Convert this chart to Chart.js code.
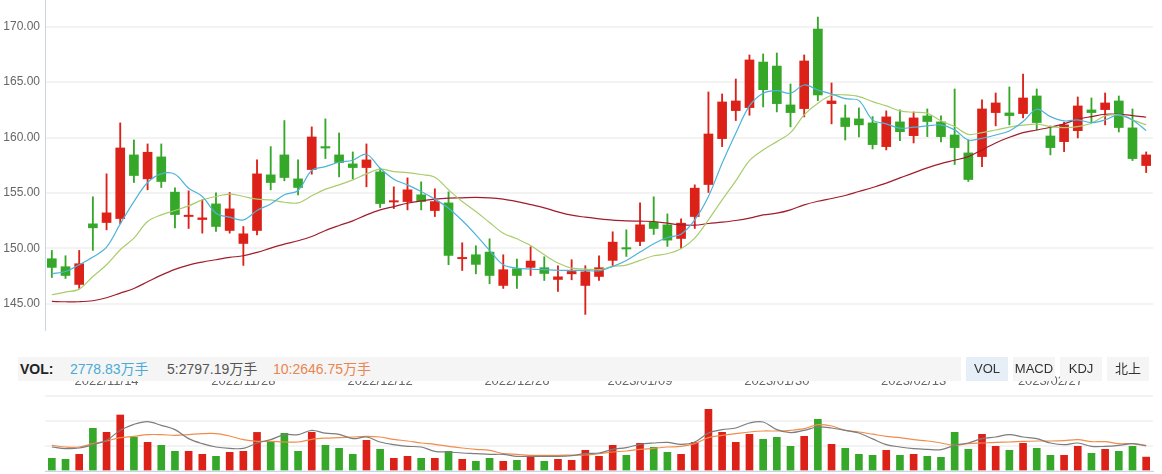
<!DOCTYPE html>
<html>
<head>
<meta charset="utf-8">
<script src="https://cdn.jsdelivr.net/npm/chart.js@4.4.1/dist/chart.umd.min.js"></script>
<style>
  body { margin: 0; background: #fff; font-family: "Liberation Sans", Arial, "Noto Sans CJK SC", sans-serif; }
  #wrap { position: relative; width: 1162px; height: 474px; overflow: hidden; }
  #mainChart { position: absolute; left: 0; top: 0; }
  #volChart { position: absolute; left: 0; top: 390px; }
  .volbar { position: absolute; left: 18px; top: 357px; width: 943px; height: 24px; background: #f5f5f5; z-index: 2;
            font-size: 14px; line-height: 24px; white-space: nowrap; }
  .volbar span { position: absolute; top: 0; }
  .btn { position: absolute; top: 357px; height: 24px; width: 42px; background: #f5f5f5; z-index: 2;
         font-size: 13px; line-height: 24px; text-align: center; color: #333; }
  .btn.on { background: #e6eef8; }
</style>
</head>
<body>
<div id="wrap">
  <canvas id="mainChart" width="1162" height="392"></canvas>
  <canvas id="volChart" width="1162" height="84"></canvas>
  <div class="volbar">
    <span style="left:2px;font-weight:bold;color:#222;">VOL:</span>
    <span style="left:52px;color:#4aabd6;">2778.83万手</span>
    <span style="left:149px;color:#555;">5:2797.19万手</span>
    <span style="left:255px;color:#ea8550;">10:2646.75万手</span>
  </div>
  <div class="btn on" style="left:966px;">VOL</div>
  <div class="btn" style="left:1013px;">MACD</div>
  <div class="btn" style="left:1060px;">KDJ</div>
  <div class="btn" style="left:1107px;">北上</div>
</div>
<script>
const dates = [
  "2022/11/08","2022/11/09","2022/11/10","2022/11/11","2022/11/14","2022/11/15","2022/11/16","2022/11/17","2022/11/18",
  "2022/11/21","2022/11/22","2022/11/23","2022/11/24","2022/11/25","2022/11/28","2022/11/29","2022/11/30","2022/12/01",
  "2022/12/02","2022/12/05","2022/12/06","2022/12/07","2022/12/08","2022/12/09","2022/12/12","2022/12/13","2022/12/14",
  "2022/12/15","2022/12/16","2022/12/19","2022/12/20","2022/12/21","2022/12/22","2022/12/23","2022/12/26","2022/12/27",
  "2022/12/28","2022/12/29","2022/12/30","2023/01/03","2023/01/04","2023/01/05","2023/01/06","2023/01/09","2023/01/10",
  "2023/01/11","2023/01/12","2023/01/13","2023/01/16","2023/01/17","2023/01/18","2023/01/19","2023/01/20","2023/01/30",
  "2023/01/31","2023/02/01","2023/02/02","2023/02/03","2023/02/06","2023/02/07","2023/02/08","2023/02/09","2023/02/10",
  "2023/02/13","2023/02/14","2023/02/15","2023/02/16","2023/02/17","2023/02/20","2023/02/21","2023/02/22","2023/02/23",
  "2023/02/24","2023/02/27","2023/02/28","2023/03/01","2023/03/02","2023/03/03","2023/03/06","2023/03/07","2023/03/08"
];
const tickDates = ["2022/11/14","2022/11/28","2022/12/12","2022/12/26","2023/01/09","2023/01/30","2023/02/13","2023/02/27"];
const priceTicks = [145, 150, 155, 160, 165, 170];
const volTicks = [0, 5000, 10000, 15000];

const opens = [149.06,148.34,146.74,152.21,152.33,152.69,158.43,156.27,158.25,155.07,
  152.87,152.60,154.01,151.61,150.44,151.61,156.63,158.43,156.27,157.11,
  159.18,158.43,157.62,157.29,156.90,154.18,154.22,154.83,153.41,154.10,
  149.06,149.42,149.66,146.65,148.16,148.28,148.25,147.19,147.70,146.65,
  147.46,148.91,150.06,150.62,152.36,152.12,150.89,152.87,155.76,159.90,
  162.43,162.70,166.81,166.45,162.94,162.61,169.79,163.06,161.77,161.68,
  161.32,159.18,161.41,160.17,161.95,161.41,160.23,158.61,158.28,162.25,
  162.22,162.16,163.75,160.14,159.63,160.62,162.49,162.52,163.30,160.87,
  157.47];
const closes = [148.28,147.55,148.61,151.85,153.20,159.06,156.57,158.67,156.03,153.05,
  152.99,152.75,151.97,153.56,151.31,156.72,155.94,156.39,155.49,160.05,
  159.05,157.74,157.29,157.98,154.04,154.30,155.28,154.22,154.22,149.36,
  149.18,148.55,147.55,148.07,147.55,148.85,147.73,147.43,147.91,147.88,
  148.25,150.56,149.94,152.12,151.79,150.74,152.27,155.43,160.32,163.21,
  163.30,167.00,164.32,163.06,162.25,166.91,163.84,163.30,160.99,161.14,
  159.36,161.86,160.53,161.77,161.44,160.08,159.09,156.21,162.58,163.12,
  161.98,163.57,161.35,159.09,161.14,162.85,162.25,163.12,160.90,158.10,
  158.43];
const highs = [149.81,149.33,149.81,154.65,156.72,161.32,159.78,159.42,159.42,155.46,
  155.19,154.37,155.01,155.04,151.97,157.98,159.18,161.53,157.98,160.96,
  161.68,160.41,158.70,159.42,157.23,155.55,156.36,156.00,155.37,155.10,
  150.50,150.23,150.86,149.42,149.03,150.14,149.24,148.43,148.97,148.43,
  149.33,151.49,151.67,154.10,154.65,153.11,152.66,155.73,164.11,163.93,
  165.28,167.45,167.54,167.63,164.83,167.45,170.87,164.92,162.94,162.67,
  161.89,162.40,162.49,162.31,162.58,161.95,164.38,159.78,163.39,164.02,
  164.56,165.73,164.38,161.05,161.38,163.66,163.57,164.02,163.75,162.58,
  158.70];
const lows = [147.37,147.28,146.38,149.81,151.67,152.21,155.94,155.28,155.49,151.85,
  151.79,151.37,151.52,151.37,148.46,151.22,155.28,156.09,154.83,156.69,
  158.10,156.45,156.27,155.55,153.68,153.59,153.47,153.47,152.87,148.52,
  148.00,147.70,146.80,146.38,146.38,147.55,147.10,146.11,147.16,144.04,
  147.10,148.37,149.27,150.23,151.25,150.17,150.00,151.79,155.04,159.18,
  161.53,162.01,162.76,162.31,160.96,161.86,163.33,161.23,159.78,160.05,
  158.97,158.88,159.72,159.51,160.08,159.60,157.56,156.03,157.38,161.05,
  161.14,161.77,160.68,158.43,158.73,159.96,161.35,161.14,160.50,157.92,
  156.84];

const ma5 = [147.70,147.91,148.52,149.21,150.11,152.21,154.22,155.94,156.72,156.69,
  155.43,154.68,153.17,152.81,152.57,153.41,154.01,154.83,155.22,157.02,
  157.38,157.77,157.95,158.49,157.23,156.24,155.73,155.13,154.44,153.62,
  152.51,151.22,149.81,148.52,148.22,148.13,148.07,148.01,148.01,148.01,
  147.97,148.37,148.91,149.66,150.41,150.98,151.28,152.57,154.68,157.68,
  160.38,162.85,163.99,164.23,163.99,164.74,164.29,163.93,163.51,163.33,
  161.59,161.23,160.84,160.93,161.05,161.14,160.69,159.78,159.93,160.23,
  160.59,161.44,162.55,161.89,161.50,161.59,161.35,161.59,162.04,161.59,
  160.62];
const ma10 = [145.81,146.05,146.32,147.46,148.52,149.87,150.92,152.42,153.02,153.41,
  153.83,154.37,154.68,154.89,154.68,154.44,154.37,154.16,154.10,154.74,
  155.34,155.73,156.18,156.72,157.14,156.93,156.84,156.66,156.42,155.28,
  154.22,153.32,152.33,151.37,150.86,150.26,149.42,148.67,148.22,148.13,
  148.07,148.37,148.49,148.91,149.33,149.51,149.96,150.92,152.57,154.37,
  156.09,157.92,158.88,159.63,160.44,162.04,163.09,163.81,163.84,163.69,
  163.24,162.85,162.40,162.28,162.19,161.50,160.99,160.29,160.44,160.68,
  160.93,161.11,161.20,160.99,160.90,160.99,161.29,161.95,162.04,161.59,
  161.14];
const ma20 = [145.21,145.18,145.18,145.27,145.54,145.96,146.38,146.98,147.58,148.10,
  148.49,148.76,148.97,149.18,149.33,149.63,150.02,150.38,150.68,151.07,
  151.61,152.06,152.48,153.02,153.47,153.77,154.07,154.28,154.44,154.53,
  154.56,154.59,154.56,154.44,154.22,153.95,153.65,153.29,152.99,152.81,
  152.66,152.54,152.48,152.45,152.42,152.27,152.12,152.09,152.24,152.36,
  152.51,152.72,153.02,153.17,153.47,153.92,154.25,154.50,154.77,155.13,
  155.49,155.88,156.36,156.81,157.26,157.65,157.95,158.28,158.88,159.51,
  160.02,160.44,160.68,160.93,161.23,161.65,161.89,162.10,162.10,161.98,
  161.83];

// volume, 万手
const volumes = [2530,2340,3330,8540,7730,11200,6740,5730,5130,3940,
  3930,3340,2940,3730,3940,7720,5940,7530,3930,7740,
  5130,4530,3340,6130,4330,2540,2930,2530,2540,3930,
  2330,1940,2530,1930,2140,2730,1940,2330,2130,4130,
  2940,5130,3140,5540,4730,3730,3340,5740,12340,7730,
  5730,7340,6330,6740,4940,6930,10330,5340,4530,3330,
  3140,4130,3130,3340,2930,2730,7730,4340,7330,4930,
  4130,5530,4540,3130,3140,4930,3530,4330,3940,4930,
  2779];
const volMa5 = [4800,4470,4600,5270,6130,8130,9330,9870,9130,8270,
  6470,5470,4800,4530,4530,5600,6270,7270,7270,8130,
  7560,7330,6470,6800,5800,5270,4930,4800,3930,3800,
  3600,3470,3330,3330,2930,2930,2930,2930,3070,3470,
  3600,4330,4670,5330,5600,5730,5330,5800,7600,8270,
  8600,9600,9800,8270,7670,8130,8800,8600,8130,7600,
  6430,5270,4800,4470,4330,4270,5130,5600,6470,6800,
  7270,6800,6470,5600,5270,5600,4930,4930,5130,5470,
  5000];
const volMa10 = [5130,4800,4800,5470,6000,6670,6930,7270,7270,7130,
  7270,7470,7470,7000,6270,5930,5930,5800,5800,6330,
  6570,6670,6800,6930,6800,6330,6000,5600,5330,4930,
  4600,4330,4130,3470,3330,3130,3130,3130,3200,3200,
  3450,3800,4000,4330,4530,4800,4930,5470,6670,7130,
  7470,7800,8000,8000,8130,8470,9270,9000,8130,7800,
  7370,6930,6670,6270,6000,5600,5130,5470,5600,5730,
  5800,5930,6000,6000,6070,6270,5870,5870,5470,5470,
  5130];

const UP = "#dc2119";
const DOWN = "#36a829";
const candleColors = opens.map((o, i) => (closes[i] >= o ? UP : DOWN));
const bodies = opens.map((o, i) => [o, closes[i]]);
const wicks = lows.map((l, i) => [l, highs[i]]);
const FONT = "'Liberation Sans', Arial, 'Noto Sans CJK SC', sans-serif";

new Chart(document.getElementById("mainChart"), {
  type: "bar",
  data: {
    labels: dates,
    datasets: [
      { type: "line", data: ma5, borderColor: "#4db3d9", borderWidth: 1.2, pointRadius: 0, tension: 0.35, order: 0 },
      { type: "line", data: ma10, borderColor: "#a9cd6c", borderWidth: 1.2, pointRadius: 0, tension: 0.35, order: 0 },
      { type: "line", data: ma20, borderColor: "#a21c2c", borderWidth: 1.2, pointRadius: 0, tension: 0.35, order: 0 },
      { data: bodies, backgroundColor: candleColors, barThickness: 9, grouped: false, order: 1 },
      { data: wicks, backgroundColor: candleColors, barThickness: 1.2, grouped: false, order: 2 },
    ],
  },
  options: {
    responsive: false,
    animation: false,
    layout: { padding: { left: 0, right: 9, top: 0, bottom: 0 } },
    plugins: { legend: { display: false }, tooltip: { enabled: false } },
    scales: {
      x: {
        offset: true,
        grid: { display: false, drawTicks: false },
        border: { display: false },
        ticks: {
          autoSkip: false,
          maxRotation: 0,
          padding: 44,
          color: "#666",
          font: { family: FONT, size: 13 },
          callback: (v, i) => (tickDates.includes(dates[i]) ? dates[i] : ""),
        },
        afterFit: (s) => { s.height = 62; s.paddingLeft = 0; s.paddingRight = 0; },
      },
      y: {
        min: 142.63,
        max: 172.41,
        afterFit: (s) => { s.width = 45; s.paddingTop = 0; s.paddingBottom = 0; },
        afterBuildTicks: (s) => { s.ticks = priceTicks.map((v) => ({ value: v })); },
        grid: { color: "#f3f3f3", lineWidth: 2, drawTicks: false },
        border: { color: "#c6d6ea" },
        ticks: { padding: 5, color: "#666", font: { family: FONT, size: 12 }, callback: (v) => v.toFixed(2) },
      },
    },
  },
});

new Chart(document.getElementById("volChart"), {
  type: "bar",
  data: {
    labels: dates,
    datasets: [
      { type: "line", data: volMa5, borderColor: "#7d7d7d", borderWidth: 1.2, pointRadius: 0, tension: 0.35, order: 0 },
      { type: "line", data: volMa10, borderColor: "#ef8d4d", borderWidth: 1.2, pointRadius: 0, tension: 0.35, order: 0 },
      { data: volumes, backgroundColor: candleColors, barThickness: 7, order: 1 },
    ],
  },
  options: {
    responsive: false,
    animation: false,
    layout: { padding: { left: 0, right: 9, top: 6, bottom: 3 } },
    plugins: { legend: { display: false }, tooltip: { enabled: false } },
    scales: {
      x: {
        offset: true,
        grid: { display: false, drawTicks: false },
        border: { color: "#c6d6ea" },
        ticks: { display: false },
        afterFit: (s) => { s.height = 0; },
      },
      y: {
        min: 0,
        max: 15000,
        afterFit: (s) => { s.width = 45; },
        afterBuildTicks: (s) => { s.ticks = volTicks.map((v) => ({ value: v })); },
        grid: { color: "#f3f3f3", lineWidth: 2, drawTicks: false },
        border: { display: false },
        ticks: { display: false },
      },
    },
  },
});
</script>
</body>
</html>
